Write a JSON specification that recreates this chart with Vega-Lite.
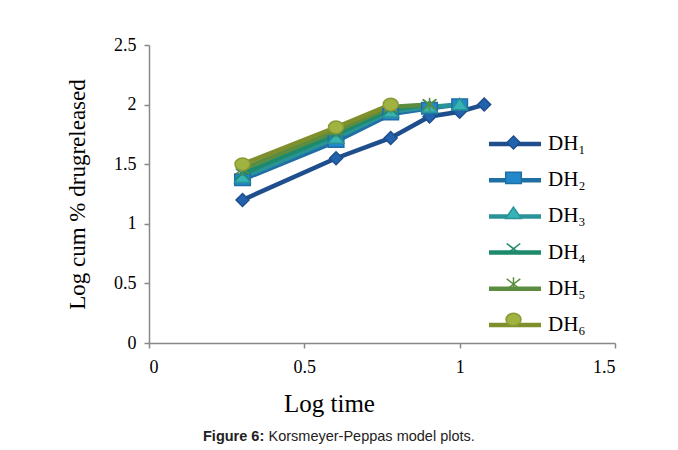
{
  "$schema": "https://vega.github.io/schema/vega-lite/v6.json",
  "autosize": "none",
  "width": 466,
  "height": 298,
  "padding": {"left": 149, "top": 45, "right": 63, "bottom": 107},
  "background": "white",
  "config": {
    "view": {"stroke": null},
    "axis": {"grid": false}
  },
  "title": {
    "text": "Figure 6:",
    "orient": "bottom",
    "anchor": "start",
    "align": "left",
    "dx": 137,
    "offset": -13,
    "font": "Liberation Sans",
    "fontSize": 14.5,
    "fontWeight": "bold",
    "color": "#222222"
  },
  "resolve": {"axis": {"x": "independent"}},
  "data": {
    "values": [
      {"series": "DH₁", "logt": 0.301, "logc": 1.20},
      {"series": "DH₁", "logt": 0.602, "logc": 1.55},
      {"series": "DH₁", "logt": 0.778, "logc": 1.72},
      {"series": "DH₁", "logt": 0.903, "logc": 1.90},
      {"series": "DH₁", "logt": 1.0, "logc": 1.94},
      {"series": "DH₁", "logt": 1.079, "logc": 2.0},
      {"series": "DH₂", "logt": 0.301, "logc": 1.37},
      {"series": "DH₂", "logt": 0.602, "logc": 1.69},
      {"series": "DH₂", "logt": 0.778, "logc": 1.92},
      {"series": "DH₂", "logt": 0.903, "logc": 1.97},
      {"series": "DH₂", "logt": 1.0, "logc": 2.0},
      {"series": "DH₃", "logt": 0.301, "logc": 1.39},
      {"series": "DH₃", "logt": 0.602, "logc": 1.72},
      {"series": "DH₃", "logt": 0.778, "logc": 1.94},
      {"series": "DH₃", "logt": 0.903, "logc": 1.98},
      {"series": "DH₃", "logt": 1.0, "logc": 2.0},
      {"series": "DH₄", "logt": 0.301, "logc": 1.42},
      {"series": "DH₄", "logt": 0.602, "logc": 1.75},
      {"series": "DH₄", "logt": 0.778, "logc": 1.96},
      {"series": "DH₄", "logt": 0.903, "logc": 2.0},
      {"series": "DH₅", "logt": 0.301, "logc": 1.46},
      {"series": "DH₅", "logt": 0.602, "logc": 1.78},
      {"series": "DH₅", "logt": 0.778, "logc": 1.98},
      {"series": "DH₅", "logt": 0.903, "logc": 2.0},
      {"series": "DH₆", "logt": 0.301, "logc": 1.50},
      {"series": "DH₆", "logt": 0.602, "logc": 1.81},
      {"series": "DH₆", "logt": 0.778, "logc": 2.0}
    ]
  },
  "encoding": {
    "y": {
      "field": "logc",
      "type": "quantitative",
      "scale": {"domain": [0, 2.5], "nice": false},
      "axis": {
        "values": [0, 0.5, 1, 1.5, 2, 2.5],
        "labelExpr": "'' + datum.value",
        "title": "Log cum % drugreleased",
        "titleFont": "Liberation Serif",
        "titleFontSize": 23,
        "titleFontWeight": "normal",
        "titleColor": "#000000",
        "titleAngle": -90,
        "titleX": -72,
        "titleY": 149,
        "titleBaseline": "middle",
        "titleAlign": "center",
        "labelFont": "Liberation Serif",
        "labelFontSize": 18,
        "labelColor": "#000000",
        "labelPadding": 8,
        "tickSize": 5,
        "tickColor": "#888888",
        "domainColor": "#888888",
        "domainWidth": 1.5,
        "tickWidth": 1.5
      }
    }
  },
  "layer": [
    {
      "mark": {"type": "line", "strokeWidth": 4.5},
      "encoding": {
        "x": {
          "field": "logt",
          "type": "quantitative",
          "scale": {"domain": [0, 1.5], "nice": false, "zero": false},
          "axis": {
            "orient": "bottom",
            "values": [0, 0.5, 1, 1.5],
            "labelExpr": "'' + datum.value",
            "title": "Log time",
            "titleFont": "Liberation Serif",
            "titleFontSize": 25,
            "titleFontWeight": "normal",
            "titleColor": "#000000",
            "titleX": 180,
            "titleY": 60,
            "titleBaseline": "middle",
            "titleAlign": "center",
            "labelFont": "Liberation Serif",
            "labelFontSize": 18,
            "labelColor": "#000000",
            "labelPadding": 10,
            "tickSize": 5,
            "tickColor": "#888888",
            "domainColor": "#888888",
            "domainWidth": 1.5,
            "tickWidth": 1.5
          }
        },
        "color": {
          "field": "series",
          "type": "nominal",
          "scale": {
            "domain": ["DH₁", "DH₂", "DH₃", "DH₄", "DH₅", "DH₆"],
            "range": ["#1f4e8c", "#1f6fa5", "#2a9398", "#1e8a6c", "#5b8c3f", "#7f8f2c"]
          },
          "legend": {
            "orient": "none",
            "legendX": 353,
            "legendY": 86,
            "title": null,
            "padding": 0,
            "symbolType": "M-2.5,0H2.5",
            "symbolSize": 433,
            "symbolStrokeWidth": 4.5,
            "labelFont": "Liberation Serif",
            "labelFontSize": 21,
            "labelColor": "#000000",
            "labelOffset": 20,
            "labelBaseline": "middle",
            "rowPadding": 13.2
          }
        }
      }
    },
    {
      "mark": {"type": "point", "filled": true, "size": 433, "strokeWidth": 1.5, "opacity": 1},
      "encoding": {
        "x": {
          "field": "logt",
          "type": "quantitative",
          "scale": {"domain": [0, 1.5], "nice": false, "zero": false},
          "axis": {
            "orient": "top",
            "domain": false,
            "ticks": false,
            "labels": false,
            "title": "Korsmeyer-Peppas model plots.",
            "titleFont": "Liberation Sans",
            "titleFontSize": 14.5,
            "titleFontWeight": "normal",
            "titleColor": "#222222",
            "titleX": 119,
            "titleY": 391,
            "titleAlign": "left",
            "titleAnchor": null,
            "titleBaseline": "middle"
          }
        },
        "fill": {
          "field": "series",
          "type": "nominal",
          "scale": {"range": ["#2163ad", "#2189c9", "#35b3b5", "#1e8a6c", "#5b8c3f", "#a0b240"]},
          "legend": {
            "orient": "none",
            "legendX": 353,
            "legendY": 86,
            "title": null,
            "padding": 0,
            "symbolSize": 433,
            "symbolStrokeWidth": 1.5,
            "labelFont": "Liberation Serif",
            "labelFontSize": 21,
            "labelExpr": "''",
            "labelOffset": 20,
            "labelBaseline": "middle",
            "rowPadding": 13.4
          }
        },
        "stroke": {
          "field": "series",
          "type": "nominal",
          "scale": {"range": ["#1f4e8c", "#1f6fa5", "#2a9398", "#1e8a6c", "#5b8c3f", "#8a9a35"]},
          "legend": {
            "orient": "none",
            "legendX": 353,
            "legendY": 86,
            "title": null,
            "padding": 0,
            "symbolSize": 433,
            "symbolStrokeWidth": 1.5,
            "labelFont": "Liberation Serif",
            "labelFontSize": 21,
            "labelExpr": "''",
            "labelOffset": 20,
            "labelBaseline": "middle",
            "rowPadding": 13.4
          }
        },
        "shape": {
          "field": "series",
          "type": "nominal",
          "scale": {
            "range": [
              "M0,-0.62L0.62,0L0,0.62L-0.62,0Z",
              "M-0.75,-0.55H0.75V0.55H-0.75Z",
              "M0,-0.6L0.75,0.5L-0.75,0.5Z",
              "M-0.65,-0.5L0.65,0.5M-0.65,0.5L0.65,-0.5",
              "M-0.65,-0.5L0.65,0.5M-0.65,0.5L0.65,-0.5M0,-0.65V0.65",
              "M-0.72,0A0.72,0.6 0 1,0 0.72,0A0.72,0.6 0 1,0 -0.72,0Z"
            ]
          },
          "legend": {
            "orient": "none",
            "legendX": 353,
            "legendY": 86,
            "title": null,
            "padding": 0,
            "symbolSize": 433,
            "symbolStrokeWidth": 1.5,
            "labelFont": "Liberation Serif",
            "labelFontSize": 21,
            "labelExpr": "''",
            "labelOffset": 20,
            "labelBaseline": "middle",
            "rowPadding": 13.4
          }
        }
      }
    }
  ]
}
